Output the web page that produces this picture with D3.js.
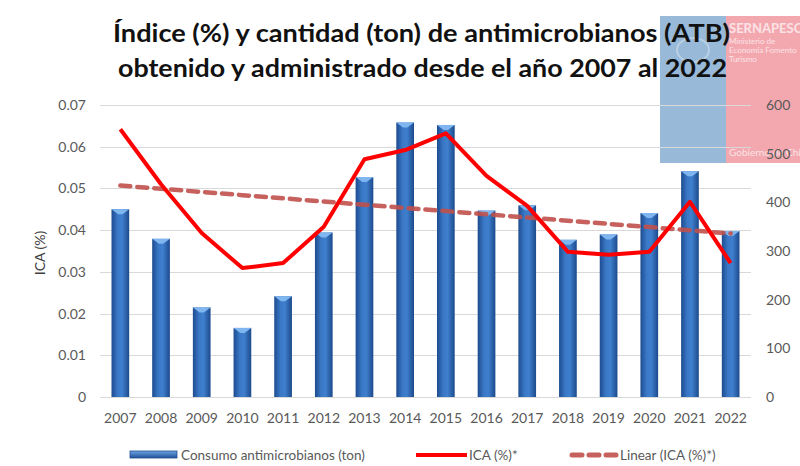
<!DOCTYPE html>
<html>
<head>
<meta charset="utf-8">
<script src="https://cdn.jsdelivr.net/npm/d3@7"></script>
<style>
  body { margin: 0; background: #fff; }
  svg text { font-family: Lato, "Open Sans", sans-serif; }
</style>
</head>
<body>
<svg id="chart" width="800" height="466"></svg>
<script>
// data
const years = ["2007","2008","2009","2010","2011","2012","2013","2014","2015","2016","2017","2018","2019","2020","2021","2022"];
const consumoTon = [386, 325, 184, 142, 207, 338, 452, 564, 559, 383, 394, 323, 334, 378, 464, 341];
const icaPct = [0.0642, 0.0510, 0.0393, 0.0309, 0.0321, 0.0408, 0.0570, 0.0592, 0.0632, 0.0530, 0.0458, 0.0348, 0.0341, 0.0348, 0.0468, 0.0321];
const leftTicks = [0, 0.01, 0.02, 0.03, 0.04, 0.05, 0.06, 0.07];
const rightTicks = [0, 100, 200, 300, 400, 500, 600];
const titleLines = [
  "Índice (%) y cantidad (ton) de antimicrobianos (ATB)",
  "obtenido y administrado desde el año 2007 al 2022"
];
const legendLabels = ["Consumo antimicrobianos (ton)", "ICA (%)*", "Linear (ICA (%)*)"];

const svg = d3.select("#chart");
const marginLeft = 100;
const plotRight = 751;
const plotTop = 105;
const plotBottom = 397;

const x = d3.scaleBand()
  .domain(years)
  .range([marginLeft, plotRight])
  .paddingInner(0.565)
  .paddingOuter(0.2825);
const cx = (d) => x(d) + x.bandwidth() / 2;

const yLeft = d3.scaleLinear().domain([0, 0.07]).range([plotBottom, plotTop]);
const yRight = d3.scaleLinear().domain([0, 600]).range([plotBottom, plotTop]);

// logo block behind the chart (top right)
const logo = svg.append("g").attr("class", "logo");
logo.append("rect").attr("x", 660).attr("y", 16).attr("width", 66).attr("height", 147).attr("fill", "#98b9d8");
logo.append("rect").attr("x", 726).attr("y", 16).attr("width", 74).attr("height", 147).attr("fill", "#f3a8af");
logo.append("ellipse").attr("cx", 693).attr("cy", 50).attr("rx", 16).attr("ry", 12)
  .attr("fill", "none").attr("stroke", "#b9cfe4").attr("stroke-width", 2);
logo.append("text").attr("x", 729).attr("y", 33).attr("fill", "#fbe3e6")
  .attr("font-size", 13).attr("font-weight", "bold").text("SERNAPESCA");
[["Ministerio de", 44], ["Economía Fomento", 53], ["Turismo", 62]].forEach(([t, yy]) => {
  logo.append("text").attr("x", 729).attr("y", yy).attr("fill", "#fbe3e6")
    .attr("font-size", 8).text(t);
});
logo.append("text").attr("x", 729).attr("y", 156).attr("fill", "#fbe3e6")
  .attr("font-size", 10).text("Gobierno de Chile");

// gridlines
svg.append("g").selectAll("line")
  .data(leftTicks)
  .join("line")
  .attr("x1", marginLeft)
  .attr("x2", plotRight)
  .attr("y1", (d) => Math.round(yLeft(d)) + 0.5)
  .attr("y2", (d) => Math.round(yLeft(d)) + 0.5)
  .attr("stroke", "#d9d9d9")
  .attr("stroke-width", 1);

// axes (labels only)
svg.append("g")
  .attr("transform", `translate(${marginLeft}, 0)`)
  .call(d3.axisLeft(yLeft).tickValues(leftTicks).tickSize(0).tickPadding(14)
    .tickFormat((d) => (d === 0 ? "0" : d3.format(".2f")(d))));
svg.append("g")
  .attr("transform", `translate(${plotRight}, 0)`)
  .call(d3.axisRight(yRight).tickValues(rightTicks).tickSize(0).tickPadding(15));
svg.append("g")
  .attr("transform", `translate(0, ${plotBottom})`)
  .call(d3.axisBottom(x).tickSize(0).tickPadding(16));
svg.selectAll(".domain").remove();
svg.selectAll(".tick text")
  .style("font-family", "Lato, 'Open Sans', sans-serif")
  .style("font-size", "14px")
  .attr("fill", "#595959");

svg.append("text")
  .attr("transform", `translate(45, 253) rotate(-90)`)
  .attr("text-anchor", "middle")
  .attr("font-size", 14)
  .attr("fill", "#404040")
  .text("ICA (%)");

// bar gradients
const defs = svg.append("defs");
const grad = defs.append("linearGradient").attr("id", "barGrad")
  .attr("x1", "0").attr("x2", "1").attr("y1", "0").attr("y2", "0");
grad.append("stop").attr("offset", "0%").attr("stop-color", "#1d4b8f");
grad.append("stop").attr("offset", "35%").attr("stop-color", "#3a78c6");
grad.append("stop").attr("offset", "60%").attr("stop-color", "#3f7fcd");
grad.append("stop").attr("offset", "100%").attr("stop-color", "#1c4a8c");
const legGrad = defs.append("linearGradient").attr("id", "legGrad")
  .attr("x1", "0").attr("x2", "0").attr("y1", "0").attr("y2", "1");
legGrad.append("stop").attr("offset", "0%").attr("stop-color", "#6ea5e6");
legGrad.append("stop").attr("offset", "100%").attr("stop-color", "#1f4f93");

// bars
const bars = svg.append("g");
bars.selectAll("rect")
  .data(consumoTon)
  .join("rect")
  .attr("x", (d, i) => x(years[i]))
  .attr("y", (d) => yRight(d))
  .attr("width", x.bandwidth())
  .attr("height", (d) => plotBottom - yRight(d))
  .attr("fill", "url(#barGrad)");
bars.selectAll("path")
  .data(consumoTon)
  .join("path")
  .attr("d", (d, i) => {
    const x0 = x(years[i]), w = x.bandwidth(), t = yRight(d);
    return `M${x0},${t}L${x0 + w},${t}L${x0 + w * 0.62},${t + 5}L${x0 + w * 0.38},${t + 5}Z`;
  })
  .attr("fill", "#7fb6f0");

// linear trend of ICA (least squares)
const xi = years.map((d, i) => i);
const mx = d3.mean(xi);
const my = d3.mean(icaPct);
const slope = d3.sum(xi, (d, i) => (d - mx) * (icaPct[i] - my)) / d3.sum(xi, (d) => (d - mx) ** 2);
const trend = xi.map((d) => my + slope * (d - mx));

svg.append("path")
  .datum(trend)
  .attr("fill", "none")
  .attr("stroke", "#c0504d")
  .attr("stroke-width", 4.5)
  .attr("stroke-dasharray", "10 7")
  .attr("stroke-linecap", "round")
  .attr("stroke-opacity", 0.9)
  .attr("d", d3.line().x((d, i) => cx(years[i])).y((d) => yLeft(d)));

svg.append("path")
  .datum(icaPct)
  .attr("fill", "none")
  .attr("stroke", "#ff0000")
  .attr("stroke-width", 4)
  .attr("stroke-linejoin", "round")
  .attr("d", d3.line().x((d, i) => cx(years[i])).y((d) => yLeft(d)));

// title
const titleX = [113, 118];
const titleW = [617, 609];
const titleY = [42, 77];
titleLines.forEach((t, i) => {
  svg.append("text")
    .attr("x", titleX[i])
    .attr("y", titleY[i])
    .attr("textLength", titleW[i])
    .attr("lengthAdjust", "spacingAndGlyphs")
    .attr("font-size", 24)
    .attr("font-weight", "bold")
    .attr("fill", "#111")
    .text(t);
});

// legend
const legend = svg.append("g").attr("font-size", 13.5).attr("fill", "#595959");
legend.append("rect").attr("x", 130).attr("y", 451).attr("width", 47).attr("height", 7)
  .attr("fill", "url(#legGrad)").attr("stroke", "#1f4f93").attr("stroke-width", 0.8);
legend.append("text").attr("x", 181).attr("y", 460).text(legendLabels[0]);
legend.append("line").attr("x1", 416).attr("x2", 467).attr("y1", 455).attr("y2", 455)
  .attr("stroke", "#ff0000").attr("stroke-width", 4);
legend.append("text").attr("x", 469).attr("y", 460).text(legendLabels[1]);
legend.append("line").attr("x1", 572).attr("x2", 616).attr("y1", 455).attr("y2", 455)
  .attr("stroke", "#c0504d").attr("stroke-width", 5).attr("stroke-dasharray", "10 7")
  .attr("stroke-linecap", "round").attr("stroke-opacity", 0.9);
legend.append("text").attr("x", 620).attr("y", 460).text(legendLabels[2]);
</script>
</body>
</html>
